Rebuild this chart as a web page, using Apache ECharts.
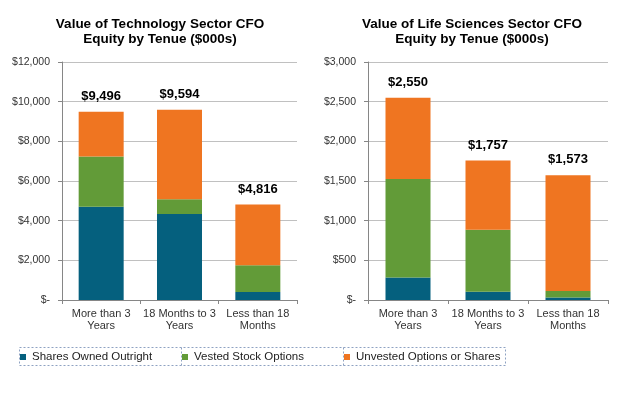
<!DOCTYPE html>
<html><head><meta charset="utf-8">
<script src="https://cdn.jsdelivr.net/npm/echarts@6/dist/echarts.min.js"></script>
<style>html,body{margin:0;padding:0;background:#fff}#c{width:619px;height:393px}</style>
</head><body><div id="c"></div>
<script>
const categories = ['More than 3\nYears', '18 Months to 3\nYears', 'Less than 18\nMonths'];
const seriesNames = ['Shares Owned Outright', 'Vested Stock Options', 'Unvested Options or Shares'];
const techShares = [4700, 4330, 400];
const techVested = [2530, 750, 1350];
const techUnvested = [2266, 4514, 3066];
const techTotals = [9496, 9594, 4816];
const lifeShares = [285, 105, 30];
const lifeVested = [1240, 780, 85];
const lifeUnvested = [1025, 872, 1458];
const lifeTotals = [2550, 1757, 1573];
const techTicks = {min: 0, max: 12000, interval: 2000};
const lifeTicks = {min: 0, max: 3000, interval: 500};

const colors = ['#05607E', '#629B38', '#EF7521'];
const font = 'Liberation Sans, Arial, sans-serif';
const fmtMoney = v => v === 0 ? '$-' : '$' + v.toLocaleString('en-US');

function grid(left, right) { return {left: left, right: right, top: 62, bottom: 93, containLabel: false}; }
function xAxis(i) {
  return {type: 'category', gridIndex: i, data: categories,
    axisLine: {lineStyle: {color: '#868686'}},
    axisTick: {show: true, alignWithLabel: false, length: 4, lineStyle: {color: '#868686'}},
    axisLabel: {color: '#333', fontFamily: font, fontSize: 11, lineHeight: 12, margin: 8, interval: 0}};
}
function yAxis(i, t) {
  return {type: 'value', gridIndex: i, min: t.min, max: t.max, interval: t.interval,
    axisLine: {show: true, lineStyle: {color: '#868686'}},
    axisTick: {show: true, length: 4, lineStyle: {color: '#868686'}},
    splitLine: {lineStyle: {color: '#C0C0C0'}},
    axisLabel: {color: '#333', fontFamily: font, fontSize: 10.5, margin: 12, formatter: fmtMoney}};
}
function bars(i, stack, vals, totals) {
  return vals.map((d, k) => {
    const s = {name: seriesNames[k], type: 'bar', stack: stack, xAxisIndex: i, yAxisIndex: i,
      data: d, barWidth: 45, itemStyle: {color: colors[k]}, emphasis: {disabled: true}};
    if (k === 2) {
      s.label = {show: true, position: 'top', distance: 9, color: '#000', fontFamily: font,
        fontSize: 13, fontWeight: 'bold', formatter: p => fmtMoney(totals[p.dataIndex])};
    }
    return s;
  });
}
const legendLefts = [20, 182, 344];
const option = {
  animation: false,
  title: [
    {text: 'Value of Technology Sector CFO\nEquity by Tenue ($000s)', left: 155, top: 12, textAlign: 'center',
      textStyle: {fontFamily: font, fontSize: 13.5, fontWeight: 'bold', color: '#000', lineHeight: 15}},
    {text: 'Value of Life Sciences Sector CFO\nEquity by Tenue ($000s)', left: 467, top: 12, textAlign: 'center',
      textStyle: {fontFamily: font, fontSize: 13.5, fontWeight: 'bold', color: '#000', lineHeight: 15}}
  ],
  grid: [grid(62, 322), grid(368, 11)],
  xAxis: [xAxis(0), xAxis(1)],
  yAxis: [yAxis(0, techTicks), yAxis(1, lifeTicks)],
  legend: seriesNames.map((n, k) => ({data: [n], left: legendLefts[k], top: 351, itemWidth: 6, itemHeight: 6,
    itemGap: 0, padding: 0, icon: 'rect', selectedMode: false,
    textStyle: {fontFamily: font, fontSize: 11.5, color: '#222', padding: [0, 0, 0, 1]}})),
  graphic: [
    {type: 'rect', shape: {x: 19.5, y: 347.5, width: 486, height: 18}, style: {fill: 'none', stroke: '#8EA2C2', lineWidth: 1, lineDash: [2, 2]}, silent: true},
    {type: 'line', shape: {x1: 181.5, y1: 347.5, x2: 181.5, y2: 365.5}, style: {stroke: '#8EA2C2', lineWidth: 1, lineDash: [2, 2]}, silent: true},
    {type: 'line', shape: {x1: 343.5, y1: 347.5, x2: 343.5, y2: 365.5}, style: {stroke: '#8EA2C2', lineWidth: 1, lineDash: [2, 2]}, silent: true}
  ],
  series: [].concat(
    bars(0, 'tech', [techShares, techVested, techUnvested], techTotals),
    bars(1, 'life', [lifeShares, lifeVested, lifeUnvested], lifeTotals))
};
echarts.init(document.getElementById('c'), null, {renderer: 'canvas'}).setOption(option);
</script></body></html>
